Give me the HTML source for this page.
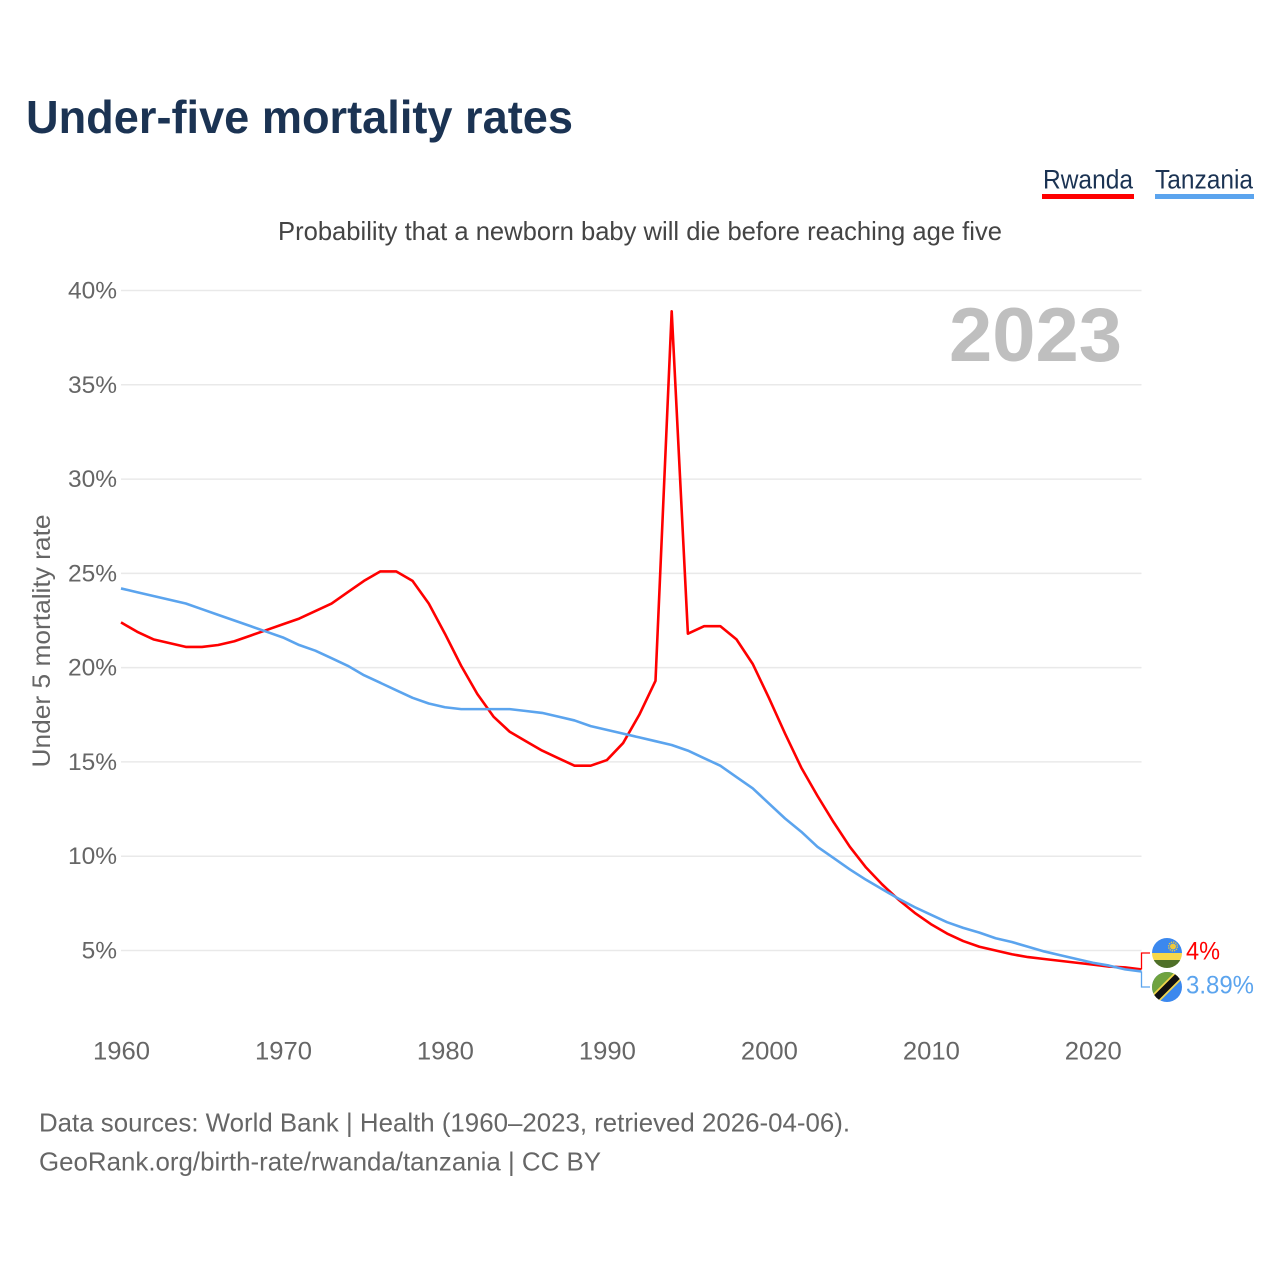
<!DOCTYPE html>
<html lang="en">
<head>
<meta charset="utf-8">
<title>Under-five mortality rates</title>
<style>
html,body{margin:0;padding:0;background:#fff;}
svg{display:block;font-family:"Liberation Sans",sans-serif;}
</style>
</head>
<body>
<svg id="chart" xmlns="http://www.w3.org/2000/svg" width="1280" height="1280" viewBox="0 0 1280 1280">
  <rect width="1280" height="1280" fill="#fff"/>
  <text x="26" y="133" font-size="46" font-weight="700" fill="#1b3353" textLength="547" lengthAdjust="spacingAndGlyphs">Under-five mortality rates</text>
  <g>
    <text x="1043" y="188.5" font-size="26.5" fill="#1b3353" textLength="90" lengthAdjust="spacingAndGlyphs">Rwanda</text>
    <rect x="1042" y="194" width="92" height="5" fill="#ff0000"/>
  </g>
  <g>
    <text x="1155" y="188.5" font-size="26.5" fill="#1b3353" textLength="98" lengthAdjust="spacingAndGlyphs">Tanzania</text>
    <rect x="1155" y="194" width="99" height="5" fill="#5ba4ee"/>
  </g>
  <text x="278" y="240" font-size="26" fill="#444" textLength="724" lengthAdjust="spacingAndGlyphs">Probability that a newborn baby will die before reaching age five</text>
  <g id="y-grid"></g>
  <g id="x-axis"></g>
  <text transform="translate(50,641) rotate(-90)" text-anchor="middle" font-size="25" fill="#666" textLength="253" lengthAdjust="spacingAndGlyphs">Under 5 mortality rate</text>
  <text x="949" y="361" font-size="76" font-weight="700" fill="#bfbfbf" textLength="173" lengthAdjust="spacingAndGlyphs">2023</text>
  <g id="series"></g>
  <g id="end-labels"></g>
  <defs>
    <clipPath id="clip-rw"><circle cx="1167" cy="953" r="15"/></clipPath>
    <clipPath id="clip-tz"><circle cx="1167" cy="987" r="15"/></clipPath>
  </defs>
  <g clip-path="url(#clip-rw)">
    <rect x="1152" y="938" width="30" height="15" fill="#3b88ee"/>
    <rect x="1152" y="953" width="30" height="7" fill="#f6d84a"/>
    <rect x="1152" y="960" width="30" height="8" fill="#4f7028"/>
    <circle cx="1173" cy="946.5" r="3" fill="#eec83c"/>
    <circle cx="1173" cy="946.5" r="4.4" fill="none" stroke="#eec83c" stroke-width="1.4" stroke-dasharray="1.3 1"/>
  </g>
  <g clip-path="url(#clip-tz)">
    <rect x="1152" y="972" width="30" height="30" fill="#3b88ee"/>
    <polygon points="1152,972 1182,972 1152,1002" fill="#6fa23f"/>
    <line x1="1150" y1="1004" x2="1184" y2="970" stroke="#f2d64b" stroke-width="10"/>
    <line x1="1150" y1="1004" x2="1184" y2="970" stroke="#111" stroke-width="6.5"/>
  </g>
  <text x="39" y="1131.5" font-size="26" fill="#666" textLength="811" lengthAdjust="spacingAndGlyphs">Data sources: World Bank | Health (1960–2023, retrieved 2026-04-06).</text>
  <text x="39" y="1170.5" font-size="26" fill="#666" textLength="562" lengthAdjust="spacingAndGlyphs">GeoRank.org/birth-rate/rwanda/tanzania | CC BY</text>
</svg>
<script>
const startYear = 1960;
const endYear = 2023;
const rwandaValues = [22.4,21.9,21.5,21.3,21.1,21.1,21.2,21.4,21.7,22.0,22.3,22.6,23.0,23.4,24.0,24.6,25.1,25.1,24.6,23.4,21.8,20.1,18.6,17.4,16.6,16.1,15.6,15.2,14.8,14.8,15.1,16.0,17.5,19.3,38.9,21.8,22.2,22.2,21.5,20.2,18.4,16.5,14.7,13.2,11.8,10.5,9.4,8.5,7.7,7.0,6.4,5.9,5.5,5.2,5.0,4.8,4.65,4.55,4.45,4.35,4.25,4.15,4.1,4.0];
const tanzaniaValues = [24.2,24.0,23.8,23.6,23.4,23.1,22.8,22.5,22.2,21.9,21.6,21.2,20.9,20.5,20.1,19.6,19.2,18.8,18.4,18.1,17.9,17.8,17.8,17.8,17.8,17.7,17.6,17.4,17.2,16.9,16.7,16.5,16.3,16.1,15.9,15.6,15.2,14.8,14.2,13.6,12.8,12.0,11.3,10.5,9.9,9.3,8.75,8.25,7.75,7.3,6.9,6.5,6.2,5.95,5.65,5.45,5.2,4.95,4.75,4.55,4.35,4.2,4.0,3.89];
const yTicks = [5,10,15,20,25,30,35,40];
const xTicks = [1960,1970,1980,1990,2000,2010,2020];
const rwandaEndLabel = "4%";
const tanzaniaEndLabel = "3.89%";

const NS = "http://www.w3.org/2000/svg";
function xScale(year) { return 121 + (year - startYear) * (1141.4 - 121) / (endYear - startYear); }
function yScale(v) { return 950.5 - (v - 5) * (950.5 - 290.5) / 35; }
function make(tag, attrs, parent, text) {
  const el = document.createElementNS(NS, tag);
  for (const k in attrs) el.setAttribute(k, attrs[k]);
  if (text !== undefined) el.textContent = text;
  parent.appendChild(el);
  return el;
}

const yGroup = document.getElementById("y-grid");
yTicks.forEach(function (t) {
  const line = make("line", {x1: 121, x2: 1141.5, y1: yScale(t), y2: yScale(t), stroke: "#e9e9e9", "stroke-width": 1.5}, yGroup);
  
  
  const label = make("text", {x: 117, y: yScale(t) + 8, "text-anchor": "end", "font-size": 24.5, fill: "#666"}, yGroup, t + "%");
  
  
});

const xGroup = document.getElementById("x-axis");
xTicks.forEach(function (t) {
  const label = make("text", {x: xScale(t) + 0.5, y: 1059.5, "text-anchor": "middle", "font-size": 25, fill: "#666", textLength: 57, lengthAdjust: "spacingAndGlyphs"}, xGroup, String(t));
  
  
});

function pathFor(values) {
  return values.map(function (v, i) {
    return (i ? "L" : "M") + xScale(startYear + i).toFixed(2) + " " + yScale(v).toFixed(2);
  }).join(" ");
}
const seriesGroup = document.getElementById("series");
const rwandaLine = make("path", {d: pathFor(rwandaValues), fill: "none", stroke: "#ff0000", "stroke-width": 2.6, "stroke-linejoin": "round"}, seriesGroup);


const tanzaniaLine = make("path", {d: pathFor(tanzaniaValues), fill: "none", stroke: "#5ba4ee", "stroke-width": 2.6, "stroke-linejoin": "round"}, seriesGroup);



const endGroup = document.getElementById("end-labels");
const rwLast = yScale(rwandaValues[rwandaValues.length - 1]);
const tzLast = yScale(tanzaniaValues[tanzaniaValues.length - 1]);
const rwConnector = make("path", {d: "M1141.5 " + rwLast + " V953 H1150", fill: "none", stroke: "#ff0000", "stroke-width": 1.3}, endGroup);


const tzConnector = make("path", {d: "M1141.5 " + tzLast + " V987 H1150", fill: "none", stroke: "#5ba4ee", "stroke-width": 1.3}, endGroup);


const rwLabel = make("text", {x: 1186, y: 959.5, "font-size": 25, fill: "#ff0000", textLength: 34, lengthAdjust: "spacingAndGlyphs"}, endGroup, rwandaEndLabel);


const tzLabel = make("text", {x: 1186, y: 993.5, "font-size": 25, fill: "#5ba4ee", textLength: 68, lengthAdjust: "spacingAndGlyphs"}, endGroup, tanzaniaEndLabel);


</script>
</body>
</html>
